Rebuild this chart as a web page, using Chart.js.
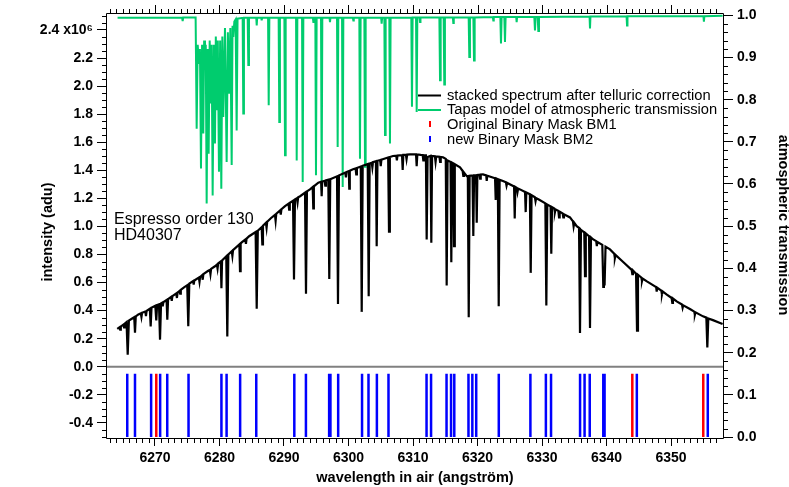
<!DOCTYPE html>
<html>
<head>
<meta charset="utf-8">
<script src="https://cdn.jsdelivr.net/npm/chart.js@4/dist/chart.umd.min.js"></script>
<style>
  body { margin: 0; background: #fff; }
  #wrap { width: 789px; height: 487px; }
</style>
</head>
<body>
<div id="wrap"><canvas id="myChart" width="789" height="487"></canvas></div>
<script>
// tick labels
var wavelengthTicks = [6270, 6280, 6290, 6300, 6310, 6320, 6330, 6340, 6350];
var intensityTicks = [-0.4, -0.2, 0.0, 0.2, 0.4, 0.6, 0.8, 1.0, 1.2, 1.4, 1.6, 1.8, 2.0, 2.2, 2.4];
var transmissionTicks = [0.0, 0.1, 0.2, 0.3, 0.4, 0.5, 0.6, 0.7, 0.8, 0.9, 1.0];

// stacked spectrum after telluric correction: [wavelength (A), intensity (1e6 adu)]
var spectrum = [
  [6264.15, 0.270],
  [6264.5, 0.281], [6264.6, 0.265], [6264.7, 0.287],
  [6265.1, 0.300], [6265.2, 0.280], [6265.3, 0.306],
  [6265.59, 0.318], [6265.77, 0.086], [6265.95, 0.328],
  [6266.4, 0.342],
  [6266.78, 0.353], [6266.90, 0.243], [6267.02, 0.358],
  [6267.36, 0.371],
  [6267.8, 0.381], [6267.9, 0.355], [6268.0, 0.385],
  [6268.5, 0.394], [6268.6, 0.360], [6268.7, 0.398],
  [6269.2, 0.413], [6269.33, 0.288], [6269.46, 0.420],
  [6270.05, 0.434], [6270.2, 0.330], [6270.33, 0.440],
  [6270.62, 0.445], [6270.78, 0.193], [6270.94, 0.452],
  [6271.1, 0.456], [6271.2, 0.430], [6271.3, 0.460],
  [6271.8, 0.475], [6271.91, 0.336], [6272.03, 0.482],
  [6272.5, 0.497], [6272.6, 0.470], [6272.7, 0.503],
  [6273.3, 0.523], [6273.4, 0.490], [6273.5, 0.528],
  [6273.8, 0.540], [6273.9, 0.520], [6274.0, 0.548],
  [6274.5, 0.565],
  [6275.0, 0.581], [6275.16, 0.288], [6275.32, 0.592],
  [6275.9, 0.610], [6276.0, 0.585], [6276.1, 0.615],
  [6276.8, 0.635], [6276.9, 0.605], [6277.0, 0.640],
  [6277.3, 0.652], [6277.4, 0.620], [6277.5, 0.660],
  [6278.2, 0.682],
  [6278.5, 0.690], [6278.6, 0.660], [6278.7, 0.697],
  [6279.3, 0.716],
  [6279.6, 0.728], [6279.7, 0.700], [6279.8, 0.736],
  [6280.2, 0.750], [6280.3, 0.560], [6280.4, 0.757],
  [6281.05, 0.787], [6281.21, 0.216], [6281.37, 0.800],
  [6281.9, 0.823], [6282.0, 0.790], [6282.1, 0.831],
  [6282.4, 0.843],
  [6283.08, 0.871], [6283.18, 0.681], [6283.28, 0.878],
  [6283.44, 0.886],
  [6284.0, 0.906], [6284.1, 0.875], [6284.2, 0.913],
  [6284.6, 0.930],
  [6285.6, 0.960], [6285.77, 0.414], [6285.94, 0.970],
  [6286.54, 0.995], [6286.64, 0.871], [6286.74, 1.005],
  [6287.2, 1.026], [6287.3, 0.990], [6287.4, 1.034],
  [6288.0, 1.060],
  [6288.6, 1.082], [6288.7, 1.040], [6288.8, 1.090],
  [6289.4, 1.114], [6289.5, 1.085], [6289.6, 1.122],
  [6290.16, 1.145],
  [6290.7, 1.162], [6290.8, 1.120], [6290.9, 1.168],
  [6291.4, 1.183], [6291.55, 0.621], [6291.7, 1.192],
  [6292.0, 1.200], [6292.1, 1.170], [6292.2, 1.208],
  [6292.5, 1.215],
  [6293.26, 1.241], [6293.41, 0.521], [6293.56, 1.250],
  [6294.03, 1.264],
  [6294.45, 1.280], [6294.54, 1.129], [6294.63, 1.286],
  [6295.32, 1.312],
  [6295.76, 1.318], [6295.84, 1.216], [6295.92, 1.320],
  [6296.3, 1.324], [6296.4, 1.290], [6296.5, 1.328],
  [6296.87, 1.333], [6297.02, 0.626], [6297.17, 1.336],
  [6298.22, 1.357], [6298.37, 0.448], [6298.52, 1.364],
  [6299.2, 1.378],
  [6299.5, 1.384], [6299.6, 1.350], [6299.7, 1.388],
  [6300.05, 1.394], [6300.12, 1.269], [6300.2, 1.397],
  [6300.7, 1.407],
  [6301.1, 1.413], [6301.2, 1.370], [6301.3, 1.417],
  [6301.9, 1.427], [6302.05, 0.391], [6302.2, 1.432],
  [6302.98, 1.444], [6303.13, 0.502], [6303.28, 1.449],
  [6303.6, 1.454], [6303.7, 1.420], [6303.8, 1.458],
  [6304.25, 1.464], [6304.37, 0.859], [6304.49, 1.468],
  [6304.9, 1.473], [6305.0, 1.430], [6305.1, 1.476],
  [6305.3, 1.479],
  [6306.15, 1.491], [6306.28, 0.962], [6306.41, 1.495],
  [6306.9, 1.502],
  [6307.4, 1.504], [6307.5, 1.470], [6307.6, 1.506],
  [6308.3, 1.508], [6308.4, 1.402], [6308.5, 1.510],
  [6308.9, 1.511], [6309.0, 1.480], [6309.1, 1.512],
  [6309.53, 1.514],
  [6310.47, 1.513], [6310.57, 1.430], [6310.67, 1.513],
  [6311.2, 1.510],
  [6311.5, 1.509], [6311.6, 1.470], [6311.7, 1.508],
  [6312.0, 1.507], [6312.12, 0.907], [6312.26, 1.495],
  [6312.72, 1.503], [6312.84, 0.884], [6312.96, 1.502],
  [6313.4, 1.500], [6313.5, 1.460], [6313.6, 1.499],
  [6314.1, 1.496], [6314.2, 1.460], [6314.3, 1.495],
  [6314.65, 1.493],
  [6315.08, 1.481], [6315.22, 0.579], [6315.36, 1.470],
  [6315.82, 1.460], [6315.94, 0.745], [6316.06, 1.455],
  [6316.24, 1.450], [6316.36, 0.859], [6316.48, 1.443],
  [6317.29, 1.421],
  [6317.7, 1.395], [6317.8, 1.360], [6317.9, 1.385],
  [6318.33, 1.359],
  [6318.5, 1.360], [6318.64, 0.352], [6318.78, 1.362],
  [6319.23, 1.364], [6319.35, 0.931], [6319.47, 1.365],
  [6319.78, 1.366], [6319.88, 1.026], [6319.98, 1.367],
  [6320.3, 1.369], [6320.4, 1.340], [6320.5, 1.370],
  [6320.85, 1.371],
  [6321.35, 1.364], [6321.43, 1.324], [6321.51, 1.362],
  [6322.72, 1.343], [6322.82, 1.188], [6322.92, 1.341],
  [6323.15, 1.336], [6323.29, 0.431], [6323.43, 1.332],
  [6323.95, 1.324],
  [6324.4, 1.314], [6324.5, 1.290], [6324.6, 1.310],
  [6325.67, 1.285], [6325.77, 1.057], [6325.87, 1.281],
  [6326.1, 1.275], [6326.2, 1.245], [6326.3, 1.270],
  [6326.59, 1.264],
  [6327.37, 1.246], [6327.47, 1.102], [6327.57, 1.242],
  [6328.12, 1.230], [6328.25, 0.669], [6328.38, 1.222],
  [6328.9, 1.208], [6329.0, 1.180], [6329.1, 1.202],
  [6329.5, 1.192],
  [6330.52, 1.164], [6330.67, 0.436], [6330.82, 1.156],
  [6331.33, 1.143], [6331.44, 0.805], [6331.55, 1.137],
  [6331.9, 1.128], [6332.0, 1.100], [6332.1, 1.122],
  [6332.54, 1.111], [6332.64, 1.064], [6332.74, 1.105],
  [6333.2, 1.093], [6333.3, 1.065], [6333.4, 1.087],
  [6334.34, 1.064],
  [6334.8, 1.036], [6334.9, 1.000], [6335.0, 1.026],
  [6335.38, 1.002],
  [6335.74, 0.990], [6335.89, 0.241], [6336.04, 0.975],
  [6336.55, 0.958], [6336.67, 0.645], [6336.79, 0.950],
  [6337.29, 0.930], [6337.44, 0.276], [6337.59, 0.922],
  [6337.95, 0.907],
  [6338.4, 0.895], [6338.5, 0.860], [6338.6, 0.889],
  [6339.35, 0.869], [6339.5, 0.569], [6339.6, 0.620], [6339.7, 0.580], [6339.85, 0.856],
  [6340.54, 0.836],
  [6341.2, 0.805], [6341.3, 0.775], [6341.4, 0.797],
  [6342.5, 0.750],
  [6343.9, 0.690], [6344.0, 0.660], [6344.1, 0.686],
  [6344.58, 0.663], [6344.73, 0.257], [6344.88, 0.655],
  [6345.4, 0.636], [6345.5, 0.610], [6345.6, 0.629],
  [6346.2, 0.610],
  [6347.7, 0.567], [6347.78, 0.535], [6347.86, 0.563],
  [6348.5, 0.543], [6348.6, 0.515], [6348.7, 0.537],
  [6349.3, 0.515],
  [6350.1, 0.490], [6350.2, 0.455], [6350.3, 0.486],
  [6350.88, 0.466],
  [6351.7, 0.444], [6351.8, 0.420], [6351.9, 0.438],
  [6353.0, 0.410],
  [6353.6, 0.393], [6353.7, 0.370], [6353.8, 0.388],
  [6354.96, 0.359],
  [6355.48, 0.350], [6355.63, 0.138], [6355.78, 0.344],
  [6356.5, 0.332], [6357.6, 0.312], [6358.0, 0.305]
];

// Tapas model of atmospheric transmission: [wavelength (A), transmission]
var tapas = [
  [6264.2, 0.994], [6274.2, 0.995], [6274.29, 0.986], [6274.38, 0.995],
  [6276.3, 0.995],
  [6276.46, 0.731], [6276.62, 0.930], [6276.82, 0.885], [6276.97, 0.920],
  [6277.13, 0.637], [6277.30, 0.930], [6277.49, 0.720], [6277.62, 0.940],
  [6277.75, 0.901], [6277.87, 0.930], [6278.01, 0.554], [6278.16, 0.920],
  [6278.32, 0.672], [6278.48, 0.940], [6278.63, 0.791], [6278.78, 0.930],
  [6278.94, 0.573], [6279.12, 0.930], [6279.30, 0.696], [6279.43, 0.950],
  [6279.56, 0.775], [6279.74, 0.940], [6279.92, 0.629], [6280.10, 0.940],
  [6280.28, 0.589], [6280.44, 0.950], [6280.59, 0.759], [6280.85, 0.970],
  [6281.11, 0.652], [6281.30, 0.960], [6281.47, 0.814], [6281.68, 0.970],
  [6281.89, 0.645], [6282.02, 0.975], [6282.14, 0.949], [6282.30, 0.985],
  [6282.50, 0.990], [6282.66, 0.727], [6282.80, 0.992],
  [6283.59, 0.994], [6283.69, 0.767], [6283.79, 0.994],
  [6284.37, 0.994], [6284.47, 0.882], [6284.57, 0.994],
  [6285.70, 0.994], [6285.77, 0.976], [6285.84, 0.994],
  [6286.47, 0.994], [6286.54, 0.988], [6286.61, 0.994],
  [6287.53, 0.994], [6287.63, 0.787], [6287.73, 0.994],
  [6289.17, 0.994], [6289.27, 0.747], [6289.37, 0.994],
  [6290.06, 0.994], [6290.16, 0.668], [6290.26, 0.994],
  [6291.87, 0.994], [6291.97, 0.656], [6292.07, 0.994],
  [6292.80, 0.994], [6292.90, 0.605], [6293.00, 0.994],
  [6294.48, 0.994], [6294.55, 0.984], [6294.62, 0.994],
  [6294.86, 0.994], [6294.96, 0.621], [6295.06, 0.994],
  [6295.74, 0.994], [6295.84, 0.585], [6295.94, 0.994],
  [6297.06, 0.994], [6297.13, 0.984], [6297.20, 0.994],
  [6298.22, 0.994], [6298.32, 0.688], [6298.42, 0.994],
  [6299.00, 0.994], [6299.10, 0.593], [6299.20, 0.994],
  [6300.68, 0.994], [6300.75, 0.988], [6300.82, 0.994],
  [6301.68, 0.994], [6301.78, 0.660], [6301.88, 0.994],
  [6302.46, 0.994], [6302.56, 0.641], [6302.66, 0.994],
  [6305.07, 0.994], [6305.14, 0.980], [6305.21, 0.994],
  [6305.56, 0.994], [6305.66, 0.716], [6305.76, 0.994],
  [6306.33, 0.994], [6306.43, 0.696], [6306.53, 0.994],
  [6309.74, 0.995], [6309.84, 0.783], [6309.94, 0.995],
  [6310.47, 0.995], [6310.57, 0.771], [6310.67, 0.995],
  [6311.02, 0.995], [6311.09, 0.984], [6311.16, 0.995],
  [6314.09, 0.995], [6314.19, 0.846], [6314.29, 0.995],
  [6314.75, 0.995], [6314.85, 0.836], [6314.95, 0.995],
  [6316.18, 0.995], [6316.25, 0.982], [6316.32, 0.995],
  [6318.63, 0.995], [6318.73, 0.901], [6318.83, 0.995],
  [6319.36, 0.995], [6319.46, 0.893], [6319.56, 0.995],
  [6322.38, 0.996], [6322.45, 0.988], [6322.52, 0.996],
  [6323.54, 0.996], [6323.64, 0.933], [6323.74, 0.996],
  [6324.16, 0.996], [6324.26, 0.937], [6324.36, 0.996],
  [6326.00, 0.996], [6326.07, 0.984], [6326.14, 0.996],
  [6328.81, 0.996], [6328.91, 0.964], [6329.01, 0.996],
  [6329.33, 0.996], [6329.43, 0.963], [6329.53, 0.996],
  [6337.37, 0.997], [6337.44, 0.969], [6337.51, 0.997],
  [6343.11, 0.998], [6343.18, 0.976], [6343.25, 0.998],
  [6355.03, 0.998], [6355.10, 0.985], [6355.17, 0.998],
  [6358.0, 0.999]
];

// binary mask line positions (A)
var maskBM1 = [6270.2, 6344.0, 6355.0];
var maskBM2 = [6265.7, 6266.9, 6269.4, 6270.8, 6271.9, 6275.2, 6280.3, 6281.1, 6283.2, 6285.7,
  6291.6, 6293.4, 6297.0, 6297.2, 6298.4, 6302.1, 6303.1, 6304.4, 6306.2, 6312.1, 6312.8,
  6315.2, 6315.9, 6316.4, 6318.6, 6319.2, 6319.8, 6323.3, 6328.2, 6330.6, 6331.4, 6335.9,
  6336.6, 6337.4, 6339.5, 6339.7, 6344.7, 6355.7];
var maskHeight = 0.15;

function pairs(arr) {
  return arr.map(function (p) { return { x: p[0], y: p[1] }; });
}
function maskSegments(arr) {
  var out = [];
  arr.forEach(function (w) {
    out.push({ x: w, y: 0 }, { x: w, y: maskHeight }, { x: w, y: null });
  });
  return out;
}

var GREEN = 'rgb(0,204,110)';
Chart.defaults.font.family = "'Liberation Sans', Arial, Helvetica, sans-serif";
Chart.defaults.color = '#000';

var decor = {
  id: 'decor',
  beforeDatasetsDraw: function (chart) {
    var a = chart.chartArea, c = chart.ctx;
    var y0 = chart.scales.y.getPixelForValue(0);
    c.save();
    c.strokeStyle = 'rgb(128,128,128)';
    c.lineWidth = 2;
    c.beginPath(); c.moveTo(a.left, y0); c.lineTo(a.right, y0); c.stroke();
    c.restore();
  },
  afterDraw: function (chart) {
    var a = chart.chartArea, c = chart.ctx;
    var sx = chart.scales.x, sy = chart.scales.y, sy2 = chart.scales.y2;
    var i, p, v;
    c.save();
    c.strokeStyle = '#000';
    c.lineWidth = 1;
    c.beginPath();
    c.rect(Math.round(a.left) - 0.5, Math.round(a.top) + 0.5, Math.round(a.right - a.left) + 1, Math.round(a.bottom - a.top) - 1);
    c.stroke();
    // minor ticks
    c.beginPath();
    for (i = 6263; i <= 6358; i++) {
      p = Math.round(sx.getPixelForValue(i)) + 0.5;
      if (p < a.left || p > a.right) continue;
      var major = i % 10 === 0;
      if (!major) { c.moveTo(p, a.bottom); c.lineTo(p, a.bottom + 4); }
      c.moveTo(p, a.top); c.lineTo(p, a.top - (major ? 8 : 4));
    }
    for (i = -10; i <= 50; i++) {
      if (i % 4 === 0) continue;
      v = i * 0.05;
      p = Math.round(sy.getPixelForValue(v)) + 0.5;
      if (p < a.top || p > a.bottom) continue;
      c.moveTo(a.left, p); c.lineTo(a.left - 5, p);
    }
    for (i = 0; i <= 50; i++) {
      if (i % 5 === 0) continue;
      v = i * 0.02;
      p = Math.round(sy2.getPixelForValue(v)) + 0.5;
      c.moveTo(a.right, p); c.lineTo(a.right + 5, p);
    }
    c.stroke();

    // axis titles
    c.fillStyle = '#000';
    c.font = "bold 14.5px 'Liberation Sans', Arial, sans-serif";
    c.textAlign = 'center';
    c.textBaseline = 'alphabetic';
    c.fillText('wavelength in air (angstr\u00f6m)', (a.left + a.right) / 2, 481.5);
    c.save(); c.translate(52, 232); c.rotate(-Math.PI / 2);
    c.fillText('intensity (adu)', 0, 0); c.restore();
    c.save(); c.translate(779, 225); c.rotate(Math.PI / 2);
    c.fillText('atmospheric transmission', 0, 0); c.restore();

    // annotation
    c.textAlign = 'left';
    c.font = "16px 'Liberation Sans', Arial, sans-serif";
    c.fillText('Espresso order 130', 114, 224);
    c.fillText('HD40307', 114, 240);

    // legend
    c.font = "14.7px 'Liberation Sans', Arial, sans-serif";
    var rows = [
      ['stacked spectrum after telluric correction', 'line', '#000'],
      ['Tapas model of atmospheric transmission', 'line', GREEN],
      ['Original Binary Mask BM1', 'tick', 'rgb(255,0,0)'],
      ['new Binary Mask BM2', 'tick', 'rgb(0,0,255)']
    ];
    var base = [99.5, 114, 129, 144];
    rows.forEach(function (r, k) {
      c.strokeStyle = r[2];
      c.lineWidth = 2;
      c.beginPath();
      if (r[1] === 'line') { c.moveTo(418, base[k] - 4); c.lineTo(441, base[k] - 4); }
      else { c.moveTo(430, base[k] - 8); c.lineTo(430, base[k] - 2); }
      c.stroke();
      c.fillStyle = '#000';
      c.fillText(r[0], 447, base[k]);
    });
    c.restore();
  }
};

var ctx = document.getElementById('myChart').getContext('2d');
var myChart = new Chart(ctx, {
  type: 'line',
  data: {
    datasets: [
      { label: 'stacked spectrum after telluric correction', data: pairs(spectrum), yAxisID: 'y',
        borderColor: '#000', borderWidth: 2.2 },
      { label: 'Tapas model of atmospheric transmission', data: pairs(tapas), yAxisID: 'y2',
        borderColor: GREEN, borderWidth: 2 },
      { label: 'Original Binary Mask BM1', data: maskSegments(maskBM1), yAxisID: 'y2',
        borderColor: 'rgb(255,0,0)', borderWidth: 2.5, spanGaps: false },
      { label: 'new Binary Mask BM2', data: maskSegments(maskBM2), yAxisID: 'y2',
        borderColor: 'rgb(0,0,255)', borderWidth: 2.5, spanGaps: false }
    ]
  },
  options: {
    responsive: false,
    devicePixelRatio: 1,
    animation: false,
    layout: { padding: { top: 13, left: 0, right: 0, bottom: 0 } },
    elements: { point: { radius: 0 }, line: { tension: 0, borderJoinStyle: 'miter' } },
    plugins: { legend: { display: false }, tooltip: { enabled: false } },
    scales: {
      x: {
        type: 'linear', position: 'bottom', min: 6262.56, max: 6358.06,
        afterBuildTicks: function (s) { s.ticks = wavelengthTicks.map(function (v) { return { value: v }; }); },
        afterFit: function (s) { s.height = 48; },
        ticks: { font: { size: 14, weight: 'bold' }, padding: 4, maxRotation: 0, autoSkip: false,
          callback: function (v) { return String(v); } },
        grid: { drawOnChartArea: false, tickLength: 7, color: '#000' },
        border: { display: false }
      },
      y: {
        type: 'linear', position: 'left', min: -0.515, max: 2.521,
        afterBuildTicks: function (s) { s.ticks = intensityTicks.map(function (v) { return { value: v }; }); },
        afterFit: function (s) { s.width = 107; },
        ticks: { font: { size: 14, weight: 'bold' }, padding: 4, autoSkip: false,
          callback: function (v) { return Math.abs(v - 2.4) < 1e-6 ? '2.4 x10\u2076' : v.toFixed(1); } },
        grid: { drawOnChartArea: false, tickLength: 10, color: '#000' },
        border: { display: false }
      },
      y2: {
        type: 'linear', position: 'right', min: -0.0047, max: 1.0055,
        afterBuildTicks: function (s) { s.ticks = transmissionTicks.map(function (v) { return { value: v }; }); },
        afterFit: function (s) { s.width = 66; },
        ticks: { font: { size: 14, weight: 'bold' }, padding: 4, autoSkip: false,
          callback: function (v) { return v.toFixed(1); } },
        grid: { drawOnChartArea: false, tickLength: 10, color: '#000' },
        border: { display: false }
      }
    }
  },
  plugins: [decor]
});
</script>
</body>
</html>
